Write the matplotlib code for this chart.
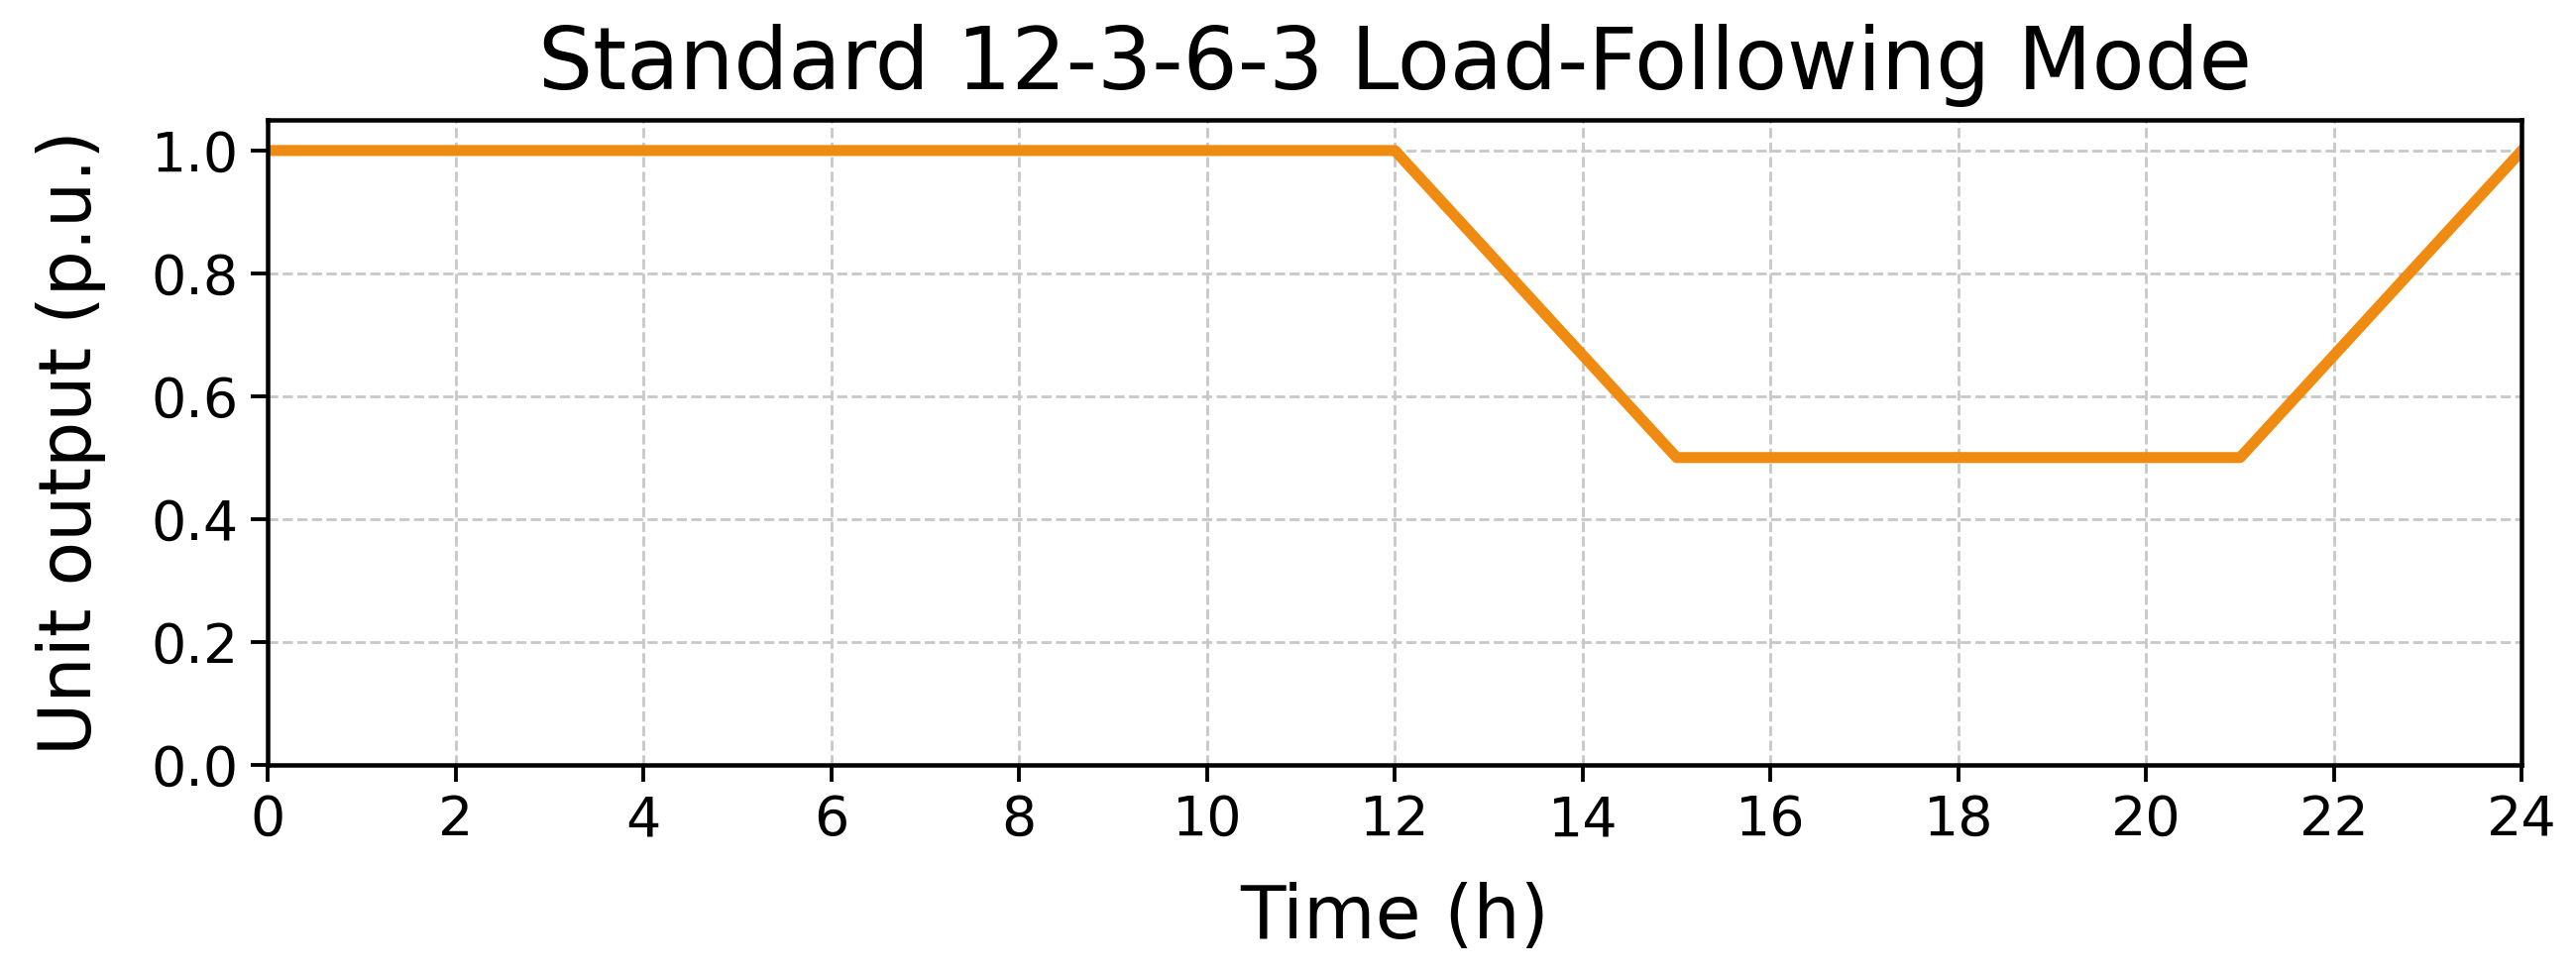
import matplotlib
matplotlib.use("Agg")
import matplotlib.pyplot as plt

# load-following profile (12h full, 3h ramp down, 6h at half, 3h ramp up)
time_h = [0, 12, 15, 21, 24]
output_pu = [1.0, 1.0, 0.5, 0.5, 1.0]
xticks = list(range(0, 25, 2))
yticks = [0.0, 0.2, 0.4, 0.6, 0.8, 1.0]

fig = plt.figure(figsize=(2599 / 250, 983 / 250), dpi=250)
ax = fig.add_axes([0.104, 0.215, 0.875, 0.662])

ax.plot(time_h, output_pu, color='#EE8B10', linewidth=3.2)

ax.set_xlim(0, 24)
ax.set_ylim(0, 1.05)
ax.set_xticks(xticks)
ax.set_yticks(yticks)
ax.tick_params(labelsize=16, width=1.1, length=5)
ax.grid(True, linestyle='--', color='#c8c8c8', linewidth=0.8)
for s in ax.spines.values():
    s.set_linewidth(1.3)

ax.set_title('Standard 12-3-6-3 Load-Following Mode', fontsize=25, pad=9)
ax.set_xlabel('Time (h)', fontsize=21.5, labelpad=10)
ax.set_ylabel('Unit output (p.u.)', fontsize=21, labelpad=13)

fig.savefig('out.png', dpi=250)
